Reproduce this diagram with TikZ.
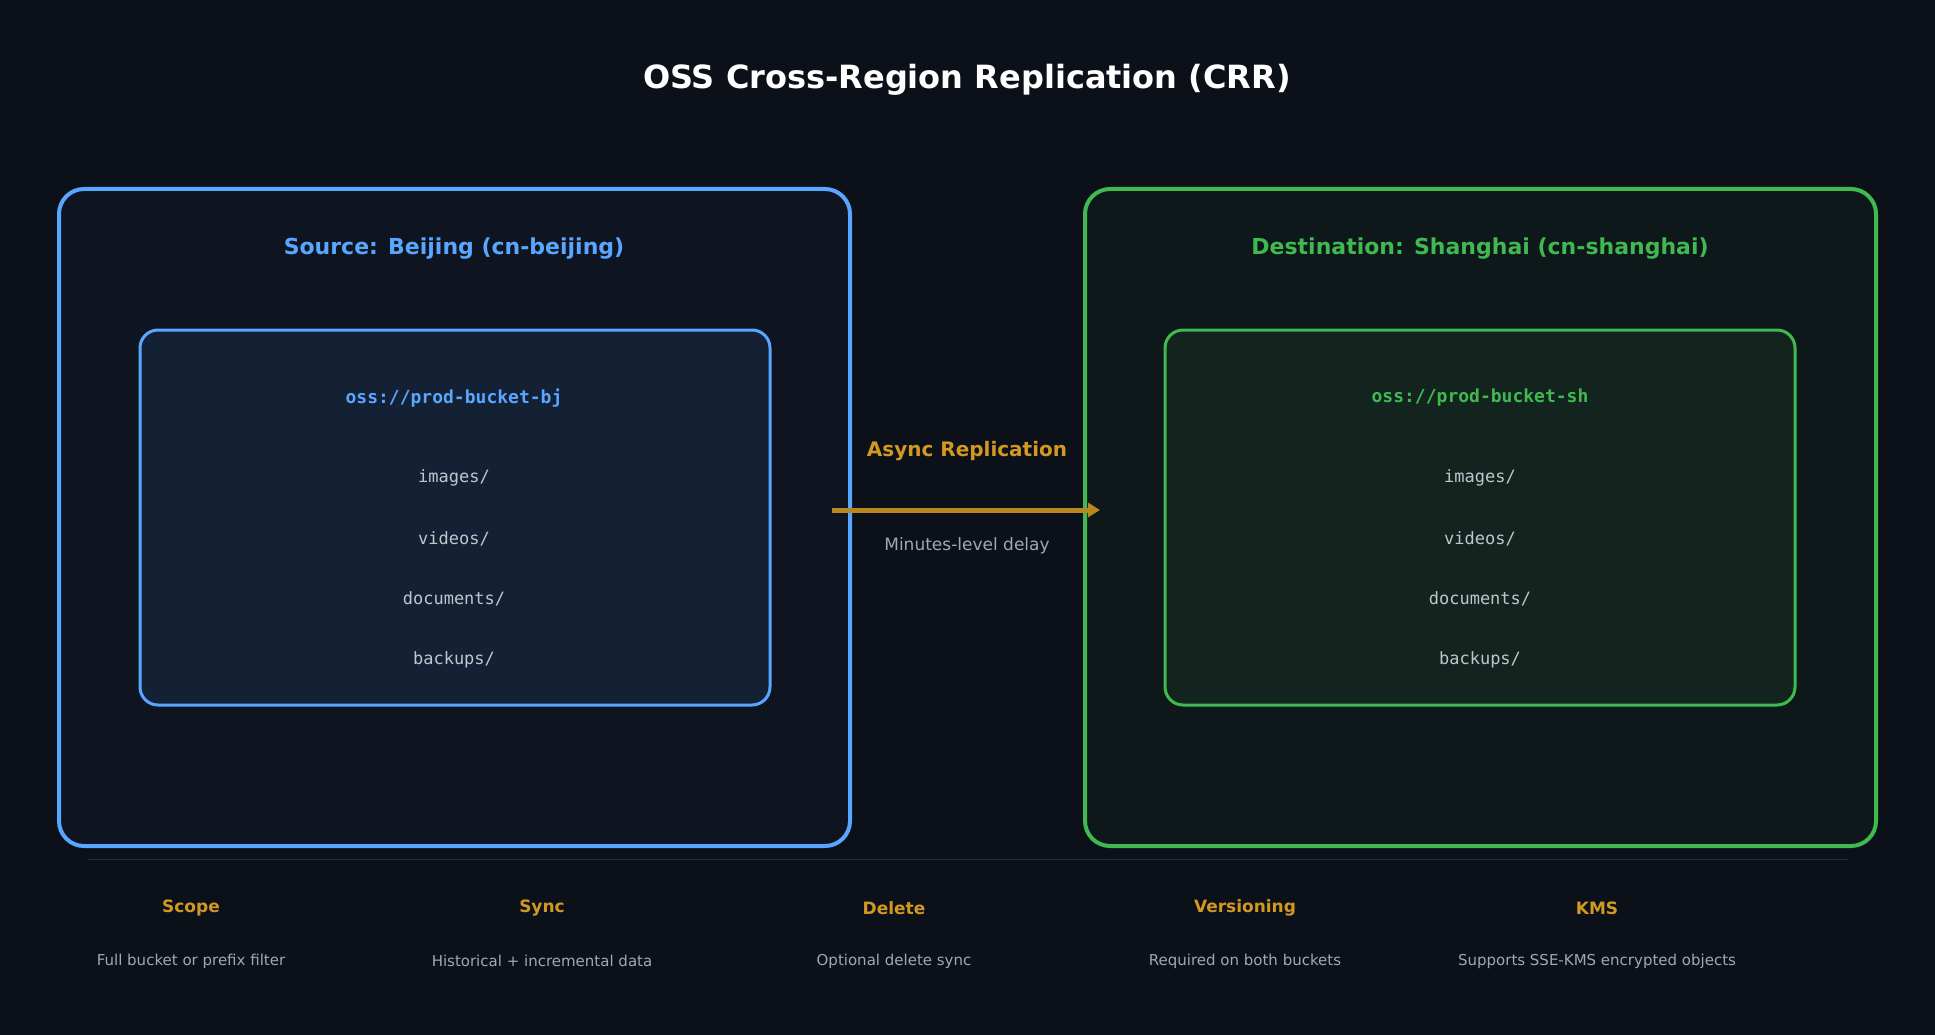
\documentclass[tikz,border=0pt]{standalone}
\usepackage{fontspec}
\setmainfont{DejaVu Sans}
\setmonofont{DejaVu Sans Mono}
\usepackage{xcolor}
\usetikzlibrary{arrows.meta, positioning}

\definecolor{bgdark}{HTML}{0C1019}
\definecolor{srcblue}{HTML}{58A6FF}
\definecolor{dstgreen}{HTML}{3FB950}
\definecolor{srcfill}{HTML}{0E1520}
\definecolor{dstfill}{HTML}{0E171A}
\definecolor{srcinner}{HTML}{142033}
\definecolor{dstinner}{HTML}{13231E}
\definecolor{gold}{HTML}{D29922}
\definecolor{arrowgold}{HTML}{B8871F}
\definecolor{softgray}{HTML}{A0A8B2}
\definecolor{foldergray}{HTML}{C0C6CE}

\tikzset{
  region/.style={draw, line width=4pt, rounded corners=25pt},
  bucket/.style={draw, line width=3pt, rounded corners=18pt},
  folder/.style={font=\ttfamily\fontsize{17}{20}\selectfont, text=foldergray},
  factname/.style={font=\bfseries\fontsize{17}{20}\selectfont, text=gold},
  factdesc/.style={font=\fontsize{15}{18}\selectfont, text=softgray}
}

\begin{document}
\begin{tikzpicture}[x=1pt, y=-1pt]
    % Background
    \fill[bgdark] (0,0) rectangle (1935,1035);
    \useasboundingbox (0,0) rectangle (1935,1035);

    \node[text=white, font=\bfseries\fontsize{32}{38}\selectfont] (title) at (967,80) {OSS Cross-Region Replication (CRR)};

    % Regions
    \draw[region, srcblue, fill=srcfill] (59,189) rectangle (850,846);
    \draw[region, dstgreen, fill=dstfill] (1085,189) rectangle (1876,846);
    \node[text=srcblue, font=\bfseries\fontsize{22}{26}\selectfont] (srctitle) at (454,249) {Source: Beijing (cn-beijing)};
    \node[text=dstgreen, font=\bfseries\fontsize{22}{26}\selectfont] (dsttitle) at (1480,249) {Destination: Shanghai (cn-shanghai)};

    % Buckets
    \draw[bucket, srcblue, fill=srcinner] (140,330) rectangle (770,705);
    \draw[bucket, dstgreen, fill=dstinner] (1165,330) rectangle (1795,705);
    \node[text=srcblue, font=\ttfamily\bfseries\fontsize{18}{22}\selectfont] (srcname) at (454,398) {oss://prod-bucket-bj};
    \node[text=dstgreen, font=\ttfamily\bfseries\fontsize{18}{22}\selectfont] (dstname) at (1480,398) {oss://prod-bucket-sh};

    \foreach \name/\y in {images/478, videos/539, documents/599, backups/660} {
        \node[folder] (src-\name) at (454,\y) {\name/};
        \node[folder] (dst-\name) at (1480,\y) {\name/};
    }

    % Replication arrow
    \coordinate (arrowstart) at (832,510);
    \coordinate (arrowend) at (1100,510);
    \draw[arrowgold, line width=5pt, -{Triangle[length=12pt, width=14pt]}] (arrowstart) -- (arrowend);
    \node[text=gold, font=\bfseries\fontsize{20}{24}\selectfont] (asynclabel) at (967,451) {Async Replication};
    \node[text=softgray, font=\fontsize{17}{20}\selectfont] (delaylabel) at (967,546) {Minutes-level delay};

    % Facts
    \draw[color=white!10!bgdark, line width=1pt] (88,859) -- (1848,859);
    \foreach \name/\desc/\x in {Scope/Full bucket or prefix filter/191,
                                Sync/Historical + incremental data/542,
                                Delete/Optional delete sync/894,
                                Versioning/Required on both buckets/1245,
                                KMS/Supports SSE-KMS encrypted objects/1597} {
        \node[factname] (fact-\name) at (\x,908) {\name};
        \node[factdesc] (desc-\name) at (\x,961) {\desc};
    }
\end{tikzpicture}
\end{document}
